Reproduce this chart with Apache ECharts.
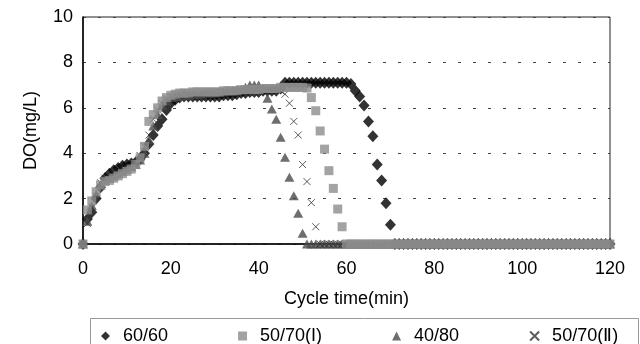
<!DOCTYPE html>
<html>
<head>
<meta charset="utf-8">
<script src="https://cdn.jsdelivr.net/npm/echarts@6/dist/echarts.min.js"></script>
<style>html,body{margin:0;padding:0;background:#fff}#c{width:640px;height:344px}</style>
</head>
<body>
<div id="c"></div>
<script>
// Cycle time (min)
const minutes = [0,1,2,3,4,5,6,7,8,9,10,11,12,13,14,15,16,17,18,19,20,21,22,23,24,25,26,27,28,29,30,31,32,33,34,35,36,37,38,39,40,41,42,43,44,45,46,47,48,49,50,51,52,53,54,55,56,57,58,59,60,61,62,63,64,65,66,67,68,69,70,71,72,73,74,75,76,77,78,79,80,81,82,83,84,85,86,87,88,89,90,91,92,93,94,95,96,97,98,99,100,101,102,103,104,105,106,107,108,109,110,111,112,113,114,115,116,117,118,119,120];

// DO (mg/L) per series, one value per minute
const do6060 = [0,1.1,1.4,2.0,2.5,2.9,3.1,3.25,3.35,3.45,3.5,3.55,3.6,3.75,4.0,4.4,4.8,5.2,5.5,5.9,6.2,6.35,6.45,6.5,6.5,6.5,6.5,6.5,6.5,6.5,6.5,6.5,6.55,6.55,6.55,6.6,6.65,6.65,6.7,6.7,6.7,6.75,6.75,6.75,6.75,6.85,7.1,7.1,7.1,7.1,7.1,7.1,7.1,7.1,7.1,7.1,7.1,7.1,7.1,7.1,7.1,7.05,6.75,6.5,6.1,5.4,4.75,3.5,2.8,1.8,0.85,0,0,0,0,0,0,0,0,0,0,0,0,0,0,0,0,0,0,0,0,0,0,0,0,0,0,0,0,0,0,0,0,0,0,0,0,0,0,0,0,0,0,0,0,0,0,0,0,0,0,0];
const do5070I = [0,1.5,1.9,2.3,2.6,2.75,2.8,2.9,3.0,3.1,3.2,3.3,3.5,3.8,4.3,5.4,5.7,6.0,6.3,6.45,6.55,6.6,6.65,6.65,6.65,6.7,6.7,6.7,6.7,6.7,6.7,6.7,6.75,6.75,6.75,6.75,6.8,6.8,6.8,6.8,6.8,6.85,6.85,6.85,6.85,6.9,6.9,6.9,6.9,6.9,6.9,6.87,6.45,5.87,4.98,4.18,3.23,2.45,1.54,0.76,0,0,0,0,0,0,0,0,0,0,0,0,0,0,0,0,0,0,0,0,0,0,0,0,0,0,0,0,0,0,0,0,0,0,0,0,0,0,0,0,0,0,0,0,0,0,0,0,0,0,0,0,0,0,0,0,0,0,0,0,0];
const do4080 = [0,1.0,1.7,2.2,2.6,2.8,2.9,3.0,3.1,3.2,3.3,3.4,3.5,3.7,4.0,4.6,5.2,5.7,6.1,6.3,6.45,6.5,6.5,6.55,6.55,6.6,6.6,6.6,6.65,6.65,6.65,6.7,6.7,6.75,6.75,6.8,6.8,6.9,7.0,7.0,7.0,6.85,6.42,5.95,5.5,4.7,3.82,2.94,2.13,1.35,0.47,0,0,0,0,0,0,0,0,0,0,0,0,0,0,0,0,0,0,0,0,0,0,0,0,0,0,0,0,0,0,0,0,0,0,0,0,0,0,0,0,0,0,0,0,0,0,0,0,0,0,0,0,0,0,0,0,0,0,0,0,0,0,0,0,0,0,0,0,0,0];
const do5070II = [0,0.9,1.6,2.1,2.7,2.9,3.0,3.1,3.2,3.3,3.35,3.4,3.6,3.9,4.3,4.8,5.5,5.9,6.2,6.4,6.5,6.55,6.55,6.6,6.6,6.6,6.6,6.65,6.65,6.65,6.7,6.7,6.7,6.7,6.75,6.75,6.75,6.75,6.8,6.8,6.8,6.8,6.8,6.8,6.8,6.75,6.6,6.2,5.4,4.8,3.5,2.75,1.82,0.76,0,0,0,0,0,0,0,0,0,0,0,0,0,0,0,0,0,0,0,0,0,0,0,0,0,0,0,0,0,0,0,0,0,0,0,0,0,0,0,0,0,0,0,0,0,0,0,0,0,0,0,0,0,0,0,0,0,0,0,0,0,0,0,0,0,0,0];

const seriesNames = ['60/60', '50/70(I)', '40/80', '50/70(Ⅱ)'];
const xTicks = [0, 20, 40, 60, 80, 100, 120];
const yTicks = [0, 2, 4, 6, 8, 10];

function pairs(vals) { return minutes.map((m, i) => [m, vals[i]]); }

const FONT = 'Liberation Sans';
const crossPath = 'path://M0,0L10,10M10,0L0,10';

const chart = echarts.init(document.getElementById('c'), null, {renderer: 'canvas'});
chart.setOption({
  animation: false,
  backgroundColor: '#fff',
  textStyle: {fontFamily: FONT, color: '#000'},
  grid: {left: 83, right: 30, top: 17, bottom: 100, show: true, borderColor: '#222', borderWidth: 1},
  graphic: [{
    type: 'rect', left: 88, top: 316,
    shape: {width: 548, height: 40},
    style: {fill: 'none', stroke: '#999', lineWidth: 1}
  }],
  legend: {
    data: seriesNames,
    left: 96, top: 322,
    itemWidth: 9, itemHeight: 9, itemGap: 70,
    textStyle: {fontFamily: FONT, fontSize: 18, color: '#000', padding: [0, 0, 0, 8]}
  },
  xAxis: {
    type: 'value', min: xTicks[0], max: xTicks[xTicks.length - 1], interval: 20,
    name: 'Cycle time(min)', nameLocation: 'middle', nameGap: 46,
    nameTextStyle: {fontFamily: FONT, fontSize: 18, color: '#000'},
    axisLine: {lineStyle: {color: '#000', width: 1.5}},
    axisTick: {show: false},
    axisLabel: {fontFamily: FONT, fontSize: 18, color: '#000', margin: 16},
    splitLine: {show: false}
  },
  yAxis: {
    type: 'value', min: yTicks[0], max: yTicks[yTicks.length - 1], interval: 2,
    name: 'DO(mg/L)', nameLocation: 'middle', nameGap: 43, nameRotate: 90,
    nameTextStyle: {fontFamily: FONT, fontSize: 18, color: '#000'},
    axisLine: {show: true, lineStyle: {color: '#000', width: 1.5}},
    axisTick: {show: false},
    axisLabel: {fontFamily: FONT, fontSize: 18, color: '#000', margin: 10},
    splitLine: {show: true, lineStyle: {color: '#444', type: [3, 12], width: 1}}
  },
  series: [
    {name: seriesNames[0], type: 'scatter', z: 2, symbol: 'diamond', symbolSize: [11, 12],
      itemStyle: {color: '#000'}, data: pairs(do6060)},
    {name: seriesNames[2], type: 'scatter', z: 3, symbol: 'triangle', symbolSize: [10, 9],
      itemStyle: {color: '#4a4a4a'}, data: pairs(do4080)},
    {name: seriesNames[3], type: 'scatter', z: 4, symbol: crossPath, symbolSize: 7,
      itemStyle: {color: 'transparent', borderColor: '#333', borderWidth: 1}, data: pairs(do5070II)},
    {name: seriesNames[1], type: 'scatter', z: 5, symbol: 'rect', symbolSize: 9,
      itemStyle: {color: '#8c8c8c'}, data: pairs(do5070I)}
  ]
});
</script>
</body>
</html>
